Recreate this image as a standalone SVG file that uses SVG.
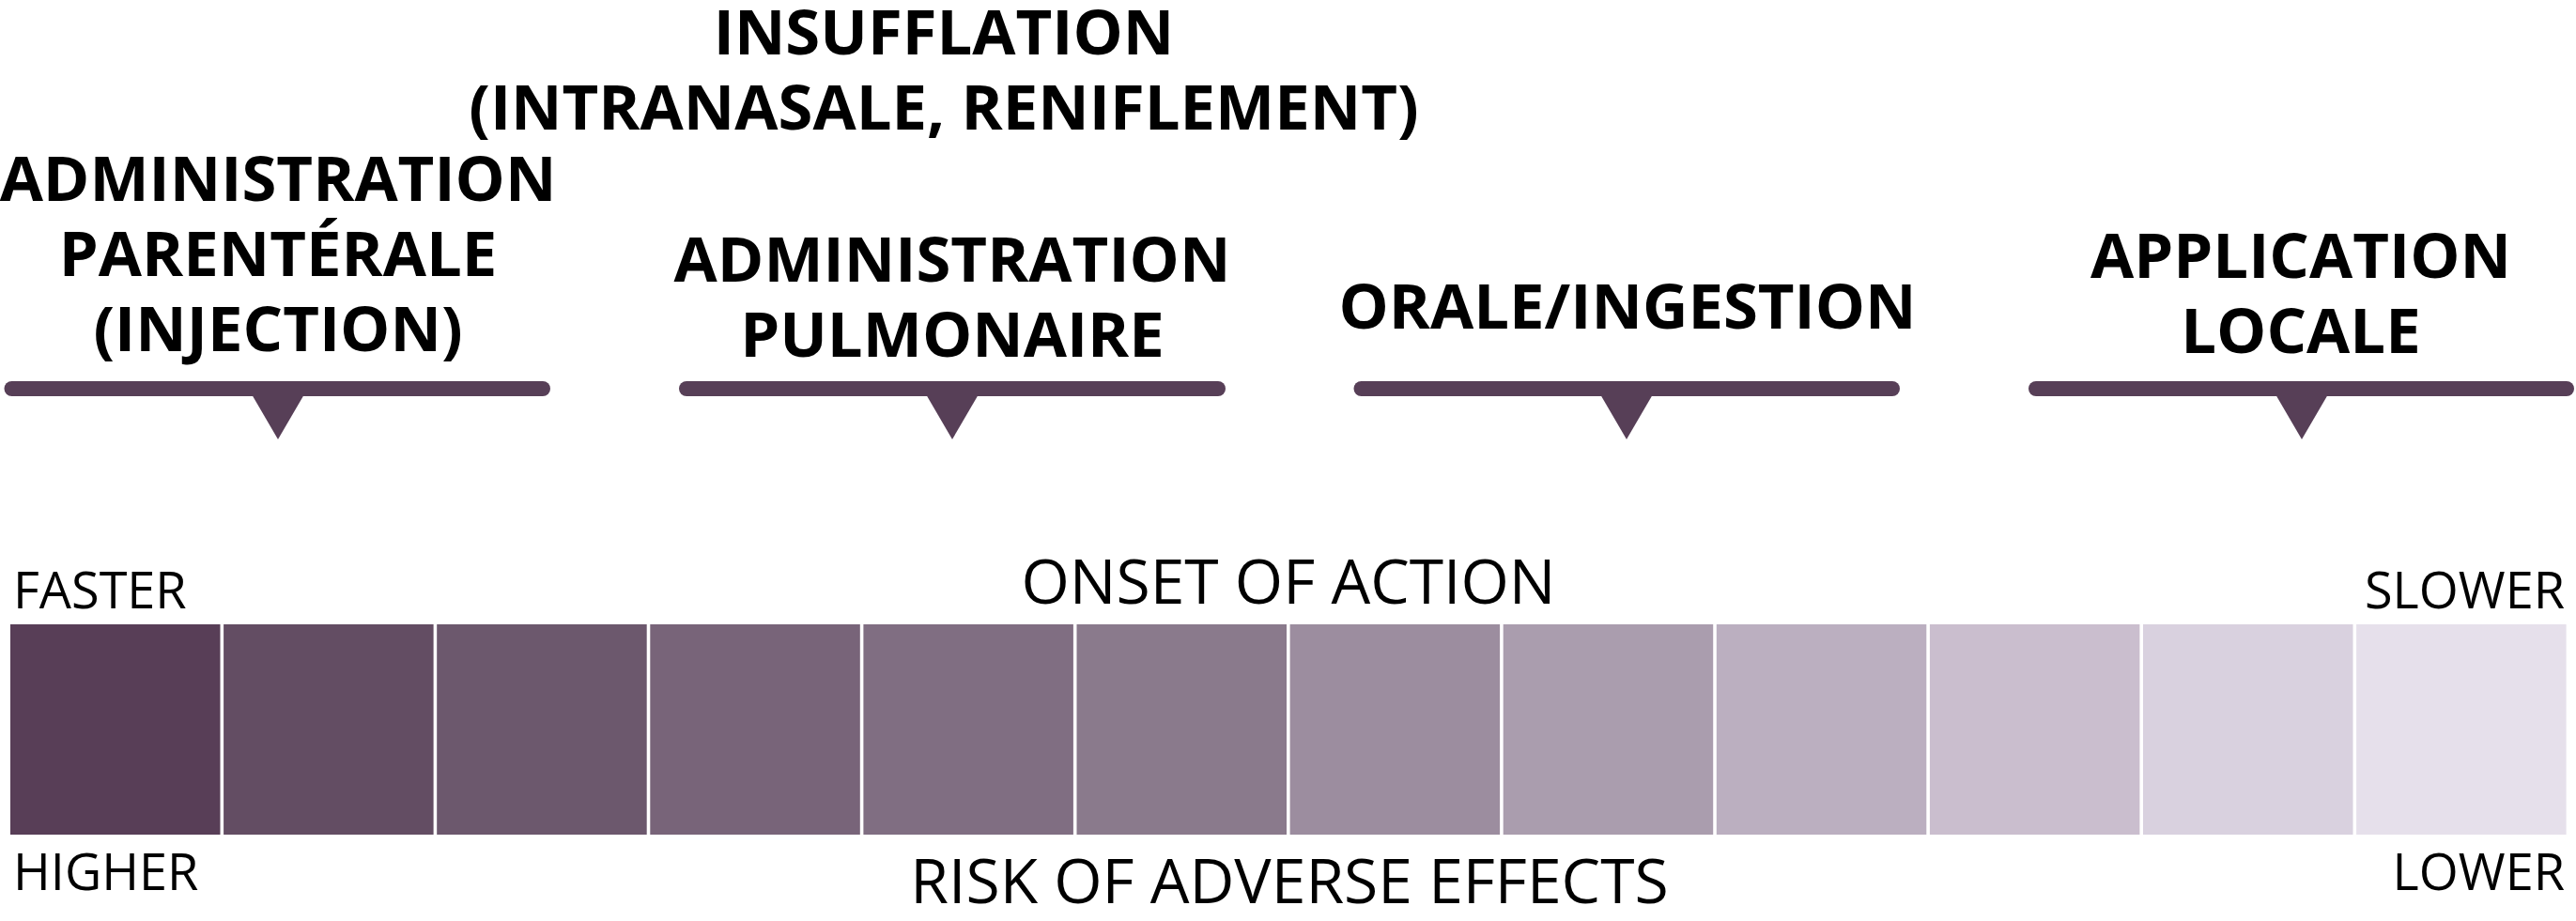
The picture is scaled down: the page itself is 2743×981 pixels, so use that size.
<svg xmlns="http://www.w3.org/2000/svg" width="2743" height="981" viewBox="0 0 2743 981">
  <style>
    .h { font-family: "Open Sans", "Liberation Sans", sans-serif; font-weight: 700; font-size: 67px; fill: #000; text-anchor: middle; }
    .l { font-family: "Open Sans", "Liberation Sans", sans-serif; font-weight: 400; fill: #000; }
    .bar { fill: #573f57; }
  </style>
  <rect width="2743" height="981" fill="#fff"/>
  <g id="insufflation">
    <text class="h" x="1005" y="58">INSUFFLATION</text>
    <text class="h" x="1005" y="138">(INTRANASALE, RENIFLEMENT)</text>
  </g>
  <g id="parenterale">
    <text class="h" x="296" y="214">ADMINISTRATION</text>
    <text class="h" x="296" y="294">PARENTÉRALE</text>
    <text class="h" x="296" y="374">(INJECTION)</text>
    <rect class="bar" x="4.5" y="406" width="581.5" height="16" rx="8"/>
    <polygon class="bar" points="268,420 324,420 296,468"/>
  </g>
  <g id="pulmonaire">
    <text class="h" x="1014" y="300">ADMINISTRATION</text>
    <text class="h" x="1014" y="380">PULMONAIRE</text>
    <rect class="bar" x="723" y="406" width="582" height="16" rx="8"/>
    <polygon class="bar" points="986,420 1042,420 1014,468"/>
  </g>
  <g id="orale">
    <text class="h" x="1733" y="350">ORALE/INGESTION</text>
    <rect class="bar" x="1441.5" y="406" width="581.5" height="16" rx="8"/>
    <polygon class="bar" points="1704,420 1760,420 1732,468"/>
  </g>
  <g id="locale">
    <text class="h" x="2450" y="296">APPLICATION</text>
    <text class="h" x="2450" y="376">LOCALE</text>
    <rect class="bar" x="2160" y="406" width="581" height="16" rx="8"/>
    <polygon class="bar" points="2423,420 2479,420 2451,468"/>
  </g>
  <g id="scale">
    <rect x="11" y="665" width="223.5" height="224" fill="#583e57"/>
    <rect x="238.1" y="665" width="223.5" height="224" fill="#634d63"/>
    <rect x="465.2" y="665" width="223.5" height="224" fill="#6c586d"/>
    <rect x="692.3" y="665" width="223.5" height="224" fill="#786479"/>
    <rect x="919.4" y="665" width="223.5" height="224" fill="#806e82"/>
    <rect x="1146.5" y="665" width="223.5" height="224" fill="#8a7a8c"/>
    <rect x="1373.6" y="665" width="223.5" height="224" fill="#9c8d9f"/>
    <rect x="1600.7" y="665" width="223.5" height="224" fill="#aa9dae"/>
    <rect x="1827.8" y="665" width="223.5" height="224" fill="#bbafc0"/>
    <rect x="2054.9" y="665" width="223.5" height="224" fill="#cabece"/>
    <rect x="2282" y="665" width="223.5" height="224" fill="#d9d1df"/>
    <rect x="2509.1" y="665" width="223.5" height="224" fill="#e6e0eb"/>
  </g>
  <g id="labels">
    <text class="l" x="14" y="648" font-size="54">FASTER</text>
    <text class="l" x="1372" y="643" font-size="66" text-anchor="middle">ONSET OF ACTION</text>
    <text class="l" x="2731" y="648" font-size="54" text-anchor="end">SLOWER</text>
    <text class="l" x="14" y="948" font-size="54">HIGHER</text>
    <text class="l" x="1373" y="962" font-size="66" text-anchor="middle">RISK OF ADVERSE EFFECTS</text>
    <text class="l" x="2731" y="948" font-size="54" text-anchor="end">LOWER</text>
  </g>
</svg>
